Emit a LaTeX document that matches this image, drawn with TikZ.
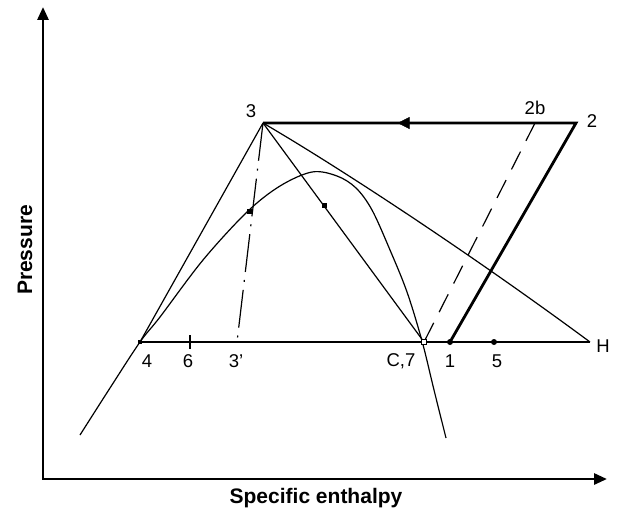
\documentclass[tikz,border=0pt]{standalone}
\usepackage{fontspec}
\setmainfont{Liberation Sans}
\usetikzlibrary{arrows.meta,decorations.markings}
\begin{document}
\begin{tikzpicture}[x=1pt,y=-1pt,
  >={Triangle[length=13pt,width=11pt]},
  thinline/.style={line width=1.2pt},
  baseline/.style={line width=1.6pt},
  thickline/.style={line width=2.8pt, line join=miter},
  lbl/.style={font=\fontsize{18.5}{22}\selectfont, inner sep=0pt},
  axlbl/.style={font=\fontsize{21}{24}\selectfont\bfseries, inner sep=0pt},
  marker/.style={rectangle, fill=black, minimum size=5pt, inner sep=0pt},
  openmarker/.style={rectangle, draw=black, fill=white, line width=1.2pt, minimum size=5pt, inner sep=0pt},
  dotmark/.style={circle, fill=black, minimum size=6pt, inner sep=0pt}]
\useasboundingbox (0,0) rectangle (617,511);

% points
\coordinate (O) at (43,479);
\coordinate (Ytop) at (43,7);
\coordinate (Xend) at (607,479);
\coordinate (p3) at (263,123);
\coordinate (p2) at (576,123);
\coordinate (p2b) at (535,123);
\coordinate (p4) at (140,342);
\coordinate (p6) at (190,342);
\coordinate (p3p) at (237,342);
\coordinate (pC) at (424,342);
\coordinate (p1) at (450,342);
\coordinate (p5) at (494,342);
\coordinate (pH) at (590,342);
\coordinate (t6a) at (190,335);
\coordinate (t6b) at (190,349);

% axes
\draw[line width=2.8pt, <->] (Ytop) -- (O) -- (Xend);
\node[axlbl, rotate=90] (ylab) at (25,250) {Pressure};
\node[axlbl] (xlab) at (316,498) {Specific enthalpy};

% saturation dome
\draw[thinline] plot[smooth, tension=0.55] coordinates {(80,435) (110,388) (140,342) (160,317) (203,260) (247,212) (280,186) (312,172) (337,176) (356,188) (372,210) (390,250) (407,292) (422,341) (434,390) (446,438)};

% cycle lines
\draw[baseline] (p4) -- (pH);
\draw[baseline] (t6a) -- (t6b);
\draw[thinline] (p3) -- (p4);
\draw[thinline] (p3) -- (pC);
\draw[thinline] (p3) .. controls (330,162) and (460,246) .. (pH);
\draw[thinline, dash pattern=on 38pt off 8pt on 2pt off 8pt] (p3) -- (p3p);
\draw[thinline, dash pattern=on 20pt off 12pt] (p2b) -- (pC);
\draw[thickline] (p1) -- (p2) -- (p3);
\draw[draw=none, postaction={decorate}, decoration={markings, mark=at position 0.57 with {\arrow{Triangle[length=12pt,width=12pt]}}}] (p2) -- (p3);

% markers
\node[marker] (m1) at (249,211) {};
\node[marker] (m2) at (324,205) {};
\node[marker, minimum size=4pt] (m4) at (p4) {};
\node[openmarker] (mC) at (pC) {};
\node[dotmark] (d1) at (p1) {};
\node[dotmark] (d5) at (p5) {};

% labels
\node[lbl] (l3) at (251,111) {3};
\node[lbl] (l2) at (592,121) {2};
\node[lbl] (l2b) at (535,108) {2b};
\node[lbl] (l4) at (147,361) {4};
\node[lbl] (l6) at (188,361) {6};
\node[lbl] (l3p) at (236,361) {3'};
\node[lbl] (lC) at (401,361) {C,7};
\node[lbl] (l1) at (450,361) {1};
\node[lbl] (l5) at (497,361) {5};
\node[lbl] (lH) at (603,346) {H};
\end{tikzpicture}
\end{document}
